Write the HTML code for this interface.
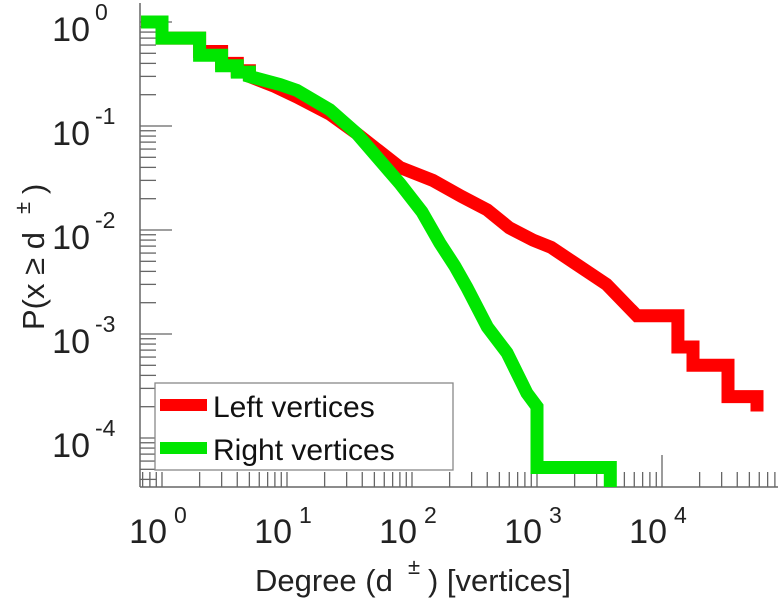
<!DOCTYPE html>
<html><head><meta charset="utf-8"><style>
html,body{margin:0;padding:0;background:#fff;}
svg{display:block;font-family:"Liberation Sans",Arial,sans-serif;}
body{position:relative;width:780px;height:600px;overflow:hidden;}
</style></head><body>
<svg id="chart" width="780" height="600" viewBox="0 0 780 600" xmlns="http://www.w3.org/2000/svg">
<defs><clipPath id="plotclip"><rect x="140" y="0" width="640" height="487"/></clipPath></defs>
<g id="axes"></g>
<g id="series" clip-path="url(#plotclip)"></g>
<g id="labels"></g>
</svg>
<script>
const xTickExps = [0, 1, 2, 3, 4];
const yTickExps = [0, -1, -2, -3, -4];
const redDeg = [0.68,1,1,2,2,3,3,4,4,5,5,8,12,22,36,80,147,250,400,600,930,1300,1950,3600,6300,13400,13400,17700,17700,33700,33700,57500,57500];
const redP   = [1,1,0.70,0.70,0.52,0.52,0.40,0.40,0.34,0.34,0.30,0.24,0.19,0.13,0.085,0.040,0.030,0.021,0.0156,0.0105,0.008,0.0068,0.0049,0.003,0.0015,0.0015,0.00075,0.00075,0.0005,0.0005,0.00025,0.00025,0.00018];
const greenDeg = [0.68,1,1,2,2,3,3,4,4,5,5,8.8,12,22,36,80,120,167,220,275,400,575,830,1000,1000,3860,3860];
const greenP   = [1,1,0.70,0.70,0.48,0.48,0.38,0.38,0.33,0.33,0.30,0.25,0.22,0.143,0.085,0.028,0.015,0.0075,0.0045,0.0028,0.00117,0.00066,0.00027,0.0002,0.000052,0.000052,0.00002];

const NS = "http://www.w3.org/2000/svg";
const X0 = 162, XD = 125, Y0 = 22, YD = 104;
const LEFT = 140, RIGHT = 778, TOP = 3, BOTTOM = 487;
function xs(d){ return X0 + XD*Math.log10(d); }
function ys(p){ return Y0 - YD*Math.log10(p); }
function mk(tag, attrs, parent){ const e=document.createElementNS(NS,tag); for(const k in attrs) e.setAttribute(k,attrs[k]); parent.appendChild(e); return e; }

const axes = document.getElementById('axes');
const series = document.getElementById('series');
const labels = document.getElementById('labels');

function drawSeries(deg, p, color, name){
  const pts = deg.map((d,i)=> xs(d).toFixed(1)+","+ys(p[i]).toFixed(1)).join(" ");
  const pl = mk('polyline',{points:pts,fill:'none',stroke:color,'stroke-width':13,'stroke-linejoin':'miter','stroke-linecap':'butt'},series);
  
  
}
drawSeries(redDeg, redP, '#ff0000', 'left-vertices-line');
drawSeries(greenDeg, greenP, '#00e600', 'right-vertices-line');

const yAxis = mk('line',{x1:LEFT,y1:TOP,x2:LEFT,y2:BOTTOM,stroke:'#666','stroke-width':1.5},axes);


const xAxis = mk('line',{x1:LEFT,y1:BOTTOM,x2:RIGHT,y2:BOTTOM,stroke:'#666','stroke-width':1.5},axes);



for(let e=1;e>=-5;e--){
  for(let m=1;m<10;m++){
    const y = ys(m*Math.pow(10,e));
    if(y<TOP||y>BOTTOM) continue;
    const len = (m===1)?32:16;
    const t = mk('line',{x1:LEFT,y1:y,x2:LEFT+len,y2:y,stroke:'#666','stroke-width':1.3},axes);
    
    
  }
}
for(let e=-1;e<=5;e++){
  for(let m=1;m<10;m++){
    const x = xs(m*Math.pow(10,e));
    if(x<LEFT||x>RIGHT) continue;
    const len = (m===1 && e===4)?32:15;
    const t = mk('line',{x1:x,y1:BOTTOM,x2:x,y2:BOTTOM-len,stroke:'#666','stroke-width':1.3},axes);
    
    
  }
}

yTickExps.forEach(e=>{
  const y = ys(Math.pow(10,e));
  const t = mk('text',{x:90,y:y+19,'font-size':34,fill:'#222','text-anchor':'end'},labels);
  t.textContent = '10';
  
  
  const s = mk('text',{x:95,y:y-2,'font-size':23,fill:'#222'},labels);
  s.textContent = String(e);
  
  
});
xTickExps.forEach(e=>{
  const x = xs(Math.pow(10,e));
  const t = mk('text',{x:x+5,y:543,'font-size':34,fill:'#222','text-anchor':'end'},labels);
  t.textContent = '10';
  
  
  const s = mk('text',{x:x+12,y:523,'font-size':23,fill:'#222'},labels);
  s.textContent = String(e);
  
  
});
</script>
<svg style="position:absolute;left:0;top:0" width="780" height="600">
  <text x="255" y="591" font-size="31" fill="#222" font-family="Liberation Sans, sans-serif">Degree (d</text>
  <text x="408" y="574" font-size="22" fill="#222" font-family="Liberation Sans, sans-serif">±</text>
  <text x="428" y="591" font-size="31" fill="#222" font-family="Liberation Sans, sans-serif">) [vertices]</text>
  <g transform="translate(44,330) rotate(-90)">
    <text x="0" y="0" font-size="31" fill="#222" font-family="Liberation Sans, sans-serif">P(x ≥ d</text>
    <text x="116" y="-14" font-size="22" fill="#222" font-family="Liberation Sans, sans-serif">±</text>
    <text x="136" y="0" font-size="31" fill="#222" font-family="Liberation Sans, sans-serif">)</text>
  </g>
  <g>
    <rect x="155" y="383" width="298" height="87" fill="#fff" stroke="#888" stroke-width="1.3"/>
    <line x1="160" y1="405" x2="207" y2="405" stroke="#ff0000" stroke-width="12"/>
    <text x="213" y="417" font-size="30" fill="#111" font-family="Liberation Sans, sans-serif">Left vertices</text>
    <line x1="160" y1="448" x2="207" y2="448" stroke="#00e600" stroke-width="12"/>
    <text x="213" y="460" font-size="30" fill="#111" font-family="Liberation Sans, sans-serif">Right vertices</text>
  </g>
</svg>
</body></html>
